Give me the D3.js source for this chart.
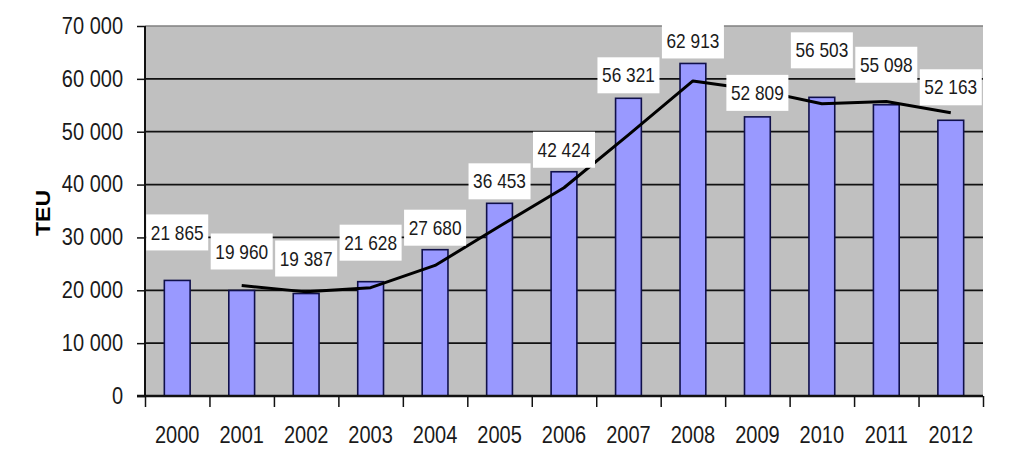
<!DOCTYPE html>
<html>
<head>
<meta charset="utf-8">
<script src="https://cdn.jsdelivr.net/npm/d3@7"></script>
<style>
  body { margin: 0; background: #fff; }
  svg text { font-family: Arial, "Liberation Sans", sans-serif; fill: #1a1a1a; }
</style>
</head>
<body>
<div id="chart"></div>
<script>
// data
const years = ["2000", "2001", "2002", "2003", "2004", "2005", "2006", "2007", "2008", "2009", "2010", "2011", "2012"];
const teu = [21865, 19960, 19387, 21628, 27680, 36453, 42424, 56321, 62913, 52809, 56503, 55098, 52163];
// trend line as drawn, starts at 2001
const trendYears = ["2001", "2002", "2003", "2004", "2005", "2006", "2007", "2008", "2009", "2010", "2011", "2012"];
const trendValues = [20900, 19700, 20500, 24700, 32100, 39400, 49400, 59600, 57900, 55300, 55700, 53600];
const yTicks = [0, 10000, 20000, 30000, 40000, 50000, 60000, 70000];

// how far each value box sits above its bar (px), as placed in the original
const labelLift = [48, 39, 35, 39, 22, 22, 22, 23, 23, 24, 47, 40, 33];

const width = 1023;
const height = 458;
const margin = {top: 26, left: 145, bottom: 62, right: 40};

const locale = d3.formatLocale({decimal: ",", thousands: " ", grouping: [3]});
const fmt = locale.format(",d");

const svg = d3.select("#chart").append("svg")
    .attr("width", width)
    .attr("height", height);

const x = d3.scaleBand()
    .domain(years)
    .range([margin.left, width - margin.right])
    .paddingInner(0.6)
    .paddingOuter(0.3);

const y = d3.scaleLinear()
    .domain([0, 70000])
    .range([height - margin.bottom, margin.top]);

const slot = d3.scaleLinear()
    .domain([0, years.length])
    .range([margin.left, width - margin.right]);

// plot background
svg.append("rect")
    .attr("x", margin.left)
    .attr("y", y(70000))
    .attr("width", width - margin.right - margin.left)
    .attr("height", y(0) - y(70000))
    .style("fill", "#c0c0c0");

svg.append("line")
    .attr("x1", margin.left).attr("x2", width - margin.right)
    .attr("y1", y(70000)).attr("y2", y(70000))
    .style("stroke", "#808080").style("stroke-width", 1.5);

// gridlines
svg.append("g")
    .selectAll("line")
    .data(yTicks.filter(d => d > 0 && d < 70000))
    .enter().append("line")
    .attr("x1", margin.left).attr("x2", width - margin.right)
    .attr("y1", d => y(d)).attr("y2", d => y(d))
    .style("stroke", "#111").style("stroke-width", 1.8);

// bars
svg.append("g")
    .selectAll("rect")
    .data(teu)
    .enter().append("rect")
    .attr("x", (d, i) => x(years[i]))
    .attr("y", d => y(d))
    .attr("width", x.bandwidth())
    .attr("height", d => y(0) - y(d))
    .style("fill", "#9999ff")
    .style("stroke", "#10104a")
    .style("stroke-width", 1.6);

// trend line
const line = d3.line()
    .x((d, i) => x(trendYears[i]) + x.bandwidth() / 2)
    .y(d => y(d));

svg.append("path")
    .datum(trendValues)
    .attr("d", line)
    .style("fill", "none")
    .style("stroke", "#000")
    .style("stroke-width", 3)
    .style("stroke-linejoin", "round");

// value boxes
const boxW = 62, boxH = 36;
const labels = svg.append("g")
    .selectAll("g")
    .data(teu)
    .enter().append("g")
    .attr("transform", (d, i) => `translate(${x(years[i]) + x.bandwidth() / 2},${y(d) - labelLift[i]})`);

labels.append("rect")
    .attr("x", -boxW / 2)
    .attr("y", -boxH / 2)
    .attr("width", boxW)
    .attr("height", boxH)
    .style("fill", "#fff");

labels.append("text")
    .attr("text-anchor", "middle")
    .attr("dy", "0.36em")
    .attr("transform", "scale(0.96,1.1)")
    .style("font-size", "18px")
    .text(d => fmt(d));

// y axis
const yAxis = svg.append("g")
    .attr("transform", `translate(${margin.left},0)`)
    .call(d3.axisLeft(y).tickValues(yTicks).tickFormat(fmt).tickSize(8).tickPadding(14));
yAxis.selectAll("text").style("font-size", "20px").attr("transform", "scale(1,1.15)");
yAxis.selectAll("line").style("stroke", "#111").style("stroke-width", 1.5);
yAxis.select(".domain").remove();
svg.append("line")
    .attr("x1", margin.left).attr("x2", margin.left)
    .attr("y1", y(70000)).attr("y2", y(0))
    .style("stroke", "#111").style("stroke-width", 2);

// x axis: boundary ticks
const xTicks = svg.append("g")
    .attr("transform", `translate(0,${y(0)})`)
    .call(d3.axisBottom(slot).ticks(years.length).tickFormat("").tickSize(11));
xTicks.select(".domain").remove();
xTicks.selectAll("line").style("stroke", "#111").style("stroke-width", 1.5);

svg.append("line")
    .attr("x1", margin.left - 8).attr("x2", width - margin.right)
    .attr("y1", y(0)).attr("y2", y(0))
    .style("stroke", "#111").style("stroke-width", 2.5);

// x labels
const xAxis = svg.append("g")
    .attr("transform", `translate(0,${y(0)})`)
    .call(d3.axisBottom(x).tickSize(0).tickPadding(27));
xAxis.select(".domain").remove();
xAxis.selectAll("text").style("font-size", "20px").attr("transform", "scale(1,1.15)");

// axis title
svg.append("text")
    .attr("transform", `translate(50,${(y(0) + y(70000)) / 2 + 2}) rotate(-90) scale(1.1,1)`)
    .attr("text-anchor", "middle")
    .style("font-size", "21px")
    .style("font-weight", "bold")
    .style("fill", "#000")
    .text("TEU");
</script>
</body>
</html>
